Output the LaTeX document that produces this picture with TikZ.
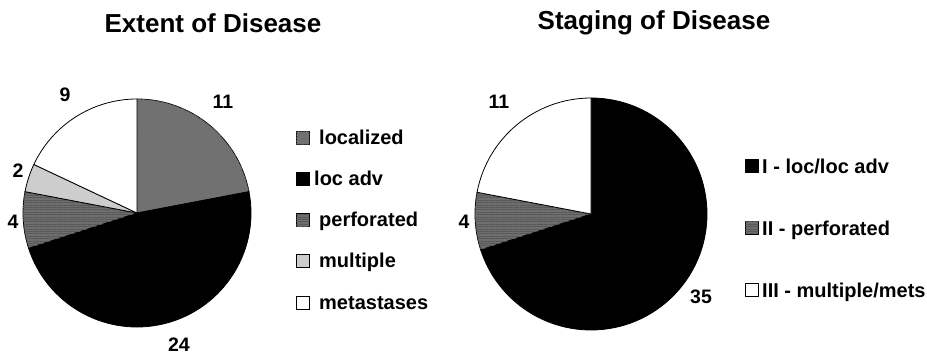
\documentclass[tikz,border=0pt]{standalone}
\usepackage{fontspec}
\setmainfont{Liberation Sans}
\usetikzlibrary{patterns.meta}

% one wedge of a pie: centre, start angle, end angle, radius, style
\newcommand\piewedge[5]{%
  \path[#5] (#1) -- ++(#2:#4) arc[start angle=#2, end angle=#3, radius=#4] -- cycle;}

\definecolor{dotgray}{RGB}{112,112,112}
\definecolor{linegray}{RGB}{110,110,110}
\definecolor{lightgray}{RGB}{205,205,205}

\begin{document}
\begin{tikzpicture}[x=1pt, y=-1pt, font=\bfseries,
  edge/.style={draw=black, line width=0.8pt},
  localized/.style={edge, fill=dotgray,
    postaction={pattern={Lines[angle=45, distance=2pt, line width=0.4pt]}, pattern color=black!55},
    postaction={pattern={Lines[angle=-45, distance=2pt, line width=0.4pt]}, pattern color=black!55}},
  locadv/.style={edge, fill=black},
  perforated/.style={edge, fill=linegray,
    postaction={pattern={Lines[angle=0, distance=2.4pt, line width=0.5pt]}, pattern color=black!65}},
  multiple/.style={edge, fill=lightgray},
  metastases/.style={edge, fill=white},
  swatch/.style={minimum size=13pt, inner sep=0pt, anchor=south west},
  legend/.style={font=\bfseries\fontsize{20}{24}\selectfont, anchor=base west, inner sep=0pt},
  count/.style={font=\bfseries\fontsize{19.5}{23}\selectfont, anchor=base, inner sep=0pt},
  heading/.style={font=\bfseries\fontsize{26}{30}\selectfont, anchor=base, inner sep=0pt}]
\useasboundingbox[fill=white] (0,0) rectangle (927,356);

% ---------------- Extent of Disease ----------------
\node[heading] (t1) at (213,32) {Extent of Disease};
\coordinate (L) at (137,213);
\piewedge{L}{90}{10.8}{114pt}{localized}
\piewedge{L}{10.8}{-162}{114pt}{locadv}
\piewedge{L}{-162}{-190.8}{114pt}{perforated}
\piewedge{L}{-190.8}{-205.2}{114pt}{multiple}
\piewedge{L}{-205.2}{-270}{114pt}{metastases}

\node[count] (n11) at (223,108) {11};
\node[count] (n24) at (179,351) {24};
\node[count] (n4)  at (13,228) {4};
\node[count] (n2)  at (18,177) {2};
\node[count] (n9)  at (65,101) {9};

\node[swatch, localized]  (k1) at (296,145) {};
\node[legend] (l1) at (319,144) {localized};
\node[swatch, locadv]     (k2) at (296,186) {};
\node[legend] (l2) at (314,185) {loc adv};
\node[swatch, perforated] (k3) at (296,227) {};
\node[legend] (l3) at (319,226) {perforated};
\node[swatch, multiple]   (k4) at (296,268) {};
\node[legend] (l4) at (319,267) {multiple};
\node[swatch, metastases] (k5) at (296,310) {};
\node[legend] (l5) at (319,309) {metastases};

% ---------------- Staging of Disease ----------------
\node[heading] (t2) at (654,29) {Staging of Disease};
\coordinate (R) at (591,214);
\piewedge{R}{90}{-162}{116pt}{locadv}
\piewedge{R}{-162}{-190.8}{116pt}{perforated}
\piewedge{R}{-190.8}{-270}{116pt}{metastases}

\node[count] (m11) at (499,108) {11};
\node[count] (m4)  at (464,228) {4};
\node[count] (m35) at (701,303) {35};

\node[swatch, locadv]     (s1) at (745,173) {};
\node[legend] (r1) at (762,173) {I - loc/loc adv};
\node[swatch, perforated] (s2) at (745,235) {};
\node[legend] (r2) at (762,235) {II - perforated};
\node[swatch, metastases] (s3) at (745,297) {};
\node[legend] (r3) at (762,297) {III - multiple/mets};
\end{tikzpicture}
\end{document}
